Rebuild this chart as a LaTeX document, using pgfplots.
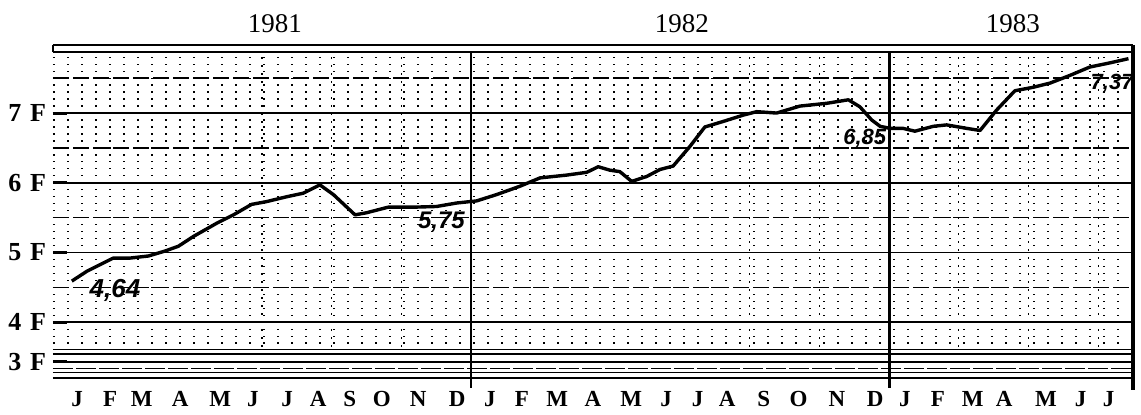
\documentclass[border=0pt]{standalone}
\usepackage{fontspec}
\setmainfont{Liberation Serif}
\newfontfamily\hand{Liberation Sans}
\usepackage{pgfplots}
\pgfplotsset{compat=1.18}
\pgfplotstableread{
x y
0.54 4.59
0.97 4.73
1.73 4.92
2.21 4.92
2.74 4.95
3.21 5.02
3.60 5.09
4.03 5.23
4.70 5.42
5.18 5.54
5.70 5.69
6.13 5.73
6.71 5.80
7.18 5.85
7.66 5.97
8.05 5.83
8.67 5.54
9.00 5.57
9.62 5.65
10.34 5.65
11.01 5.66
11.59 5.71
12.16 5.74
12.73 5.83
13.40 5.95
13.98 6.07
14.74 6.11
15.32 6.15
15.65 6.23
15.99 6.18
16.27 6.16
16.61 6.02
17.04 6.09
17.42 6.19
17.80 6.24
18.28 6.52
18.71 6.80
19.24 6.88
19.81 6.97
20.20 7.02
20.77 7.00
21.44 7.10
22.21 7.14
22.83 7.19
23.16 7.09
23.50 6.90
23.74 6.81
24.03 6.78
24.40 6.78
24.74 6.74
25.27 6.81
25.65 6.83
26.23 6.78
26.61 6.75
27.08 7.04
27.61 7.32
28.14 7.37
28.62 7.43
29.19 7.54
29.76 7.66
30.34 7.72
30.87 7.78
}\rate
\begin{document}
\begin{tikzpicture}
\begin{axis}[
  scale only axis, width=540pt, height=166.5pt,
  at={(0,0)}, anchor=south west,
  xmin=0, xmax=31, ymin=3.2, ymax=7.976,
  axis line style={draw=none},
  clip=false,
  xtick={0.69,1.64,2.55,3.65,4.8,5.74,6.72,7.61,8.52,9.44,10.48,11.6,12.54,13.46,14.47,15.5,16.6,17.6,18.5,19.35,20.4,21.4,22.5,23.6,24.45,25.4,26.4,27.3,28.5,29.5,30.3},
  xticklabels={J,F,M,A,M,J,J,A,S,O,N,D,J,F,M,A,M,J,J,A,S,O,N,D,J,F,M,A,M,J,J},
  xtick pos=bottom,
  major x tick style={draw=none},
  xticklabel style={font=\bfseries\fontsize{11.5}{13}\selectfont, yshift=-3pt},
  extra x ticks={1,2,...,30},
  extra x tick labels={},
  extra x tick style={tick align=outside, major tick length=6pt, major tick style={draw=black, line width=1.3pt}},
  ytick={3.43,4,5,6,7},
  yticklabels={3\,\,F,4\,\,F,5\,\,F,6\,\,F,7\,\,F},
  ytick pos=left,
  tick align=inside,
  major y tick style={line width=1.5pt, black},
  major tick length=7pt,
  yticklabel style={font=\bfseries\fontsize{13}{15}\selectfont},
]
% dotted background rows
\pgfplotsinvokeforeach{3.7,3.8,...,7.85}{
  \draw[black, line width=0.65pt, dash pattern=on 1pt off 6pt] (axis cs:0,#1) -- (axis cs:31,#1);
}
% dotted vertical lines
\pgfplotsinvokeforeach{6,8,10,20,22,26,28,30}{
  \draw[black, line width=0.6pt, dash pattern=on 1pt off 3pt] (axis cs:#1,3.65) -- (axis cs:#1,7.875);
}
% half-unit lines
\pgfplotsinvokeforeach{4.5,5.5,6.5,7.5}{
  \draw[black, line width=0.7pt, dash pattern=on 8pt off 2pt] (axis cs:0,#1) -- (axis cs:31,#1);
}
% unit lines
\pgfplotsinvokeforeach{4,5,6,7}{
  \draw[black, line width=0.8pt] (axis cs:0,#1) -- (axis cs:31,#1);
}
% top frame lines
\draw[black, line width=1.2pt] (axis cs:0,7.976) -- (axis cs:31,7.976);
\draw[black, line width=0.8pt] (axis cs:0,7.875) -- (axis cs:31,7.875);
\draw[black, line width=0.8pt] (axis cs:0,7.875) -- (axis cs:0,7.976);
% bottom band lines
\draw[black, line width=0.7pt] (axis cs:0,3.613) -- (axis cs:31,3.613);
\draw[black, line width=1.2pt] (axis cs:0,3.54) -- (axis cs:31,3.54);
\draw[black, line width=0.8pt] (axis cs:0,3.43) -- (axis cs:31,3.43);
\draw[black, line width=0.7pt, dash pattern=on 10pt off 1.5pt] (axis cs:0,3.34) -- (axis cs:31,3.34);
\draw[black, line width=0.8pt] (axis cs:0,3.28) -- (axis cs:31,3.28);
\draw[black, line width=1.1pt] (axis cs:0,3.2) -- (axis cs:31,3.2);
% year dividers and right frame
\draw[black, line width=1.4pt] (axis cs:12,7.875) -- ([yshift=-5pt]axis cs:12,3.2);
\draw[black, line width=1.4pt] (axis cs:24,7.875) -- ([yshift=-5pt]axis cs:24,3.2);
\draw[black, line width=1.6pt] (axis cs:31,7.976) -- ([yshift=-6pt]axis cs:31,3.2);
% the series
\addplot[black, line width=1.7pt, line join=round, mark=none] table[x=x, y=y] {\rate};
% year titles
\node[anchor=base, inner sep=0, font=\fontsize{13.5}{15}\selectfont] at ([yshift=6.5pt]axis cs:6.37,7.976) {1981};
\node[anchor=base, inner sep=0, font=\fontsize{13.5}{15}\selectfont] at ([yshift=6.5pt]axis cs:18.05,7.976) {1982};
\node[anchor=base, inner sep=0, font=\fontsize{13.5}{15}\selectfont] at ([yshift=6.5pt]axis cs:27.55,7.976) {1983};
% handwritten notes
\node[font=\hand\bfseries\itshape\fontsize{13}{15}\selectfont, inner sep=0] at (axis cs:1.78,4.46) {4,64};
\node[font=\hand\bfseries\itshape\fontsize{12}{14}\selectfont, inner sep=0] at (axis cs:11.15,5.44) {5,75};
\node[font=\hand\bfseries\itshape\fontsize{11}{13}\selectfont, inner sep=0] at (axis cs:23.3,6.64) {6,85};
\node[font=\hand\bfseries\itshape\fontsize{11}{13}\selectfont, inner sep=0] at (axis cs:30.4,7.42) {7,37};
\end{axis}
\pgfresetboundingbox
\path (-26.5pt,-18pt) rectangle (544pt,189pt);
\end{tikzpicture}
\end{document}
